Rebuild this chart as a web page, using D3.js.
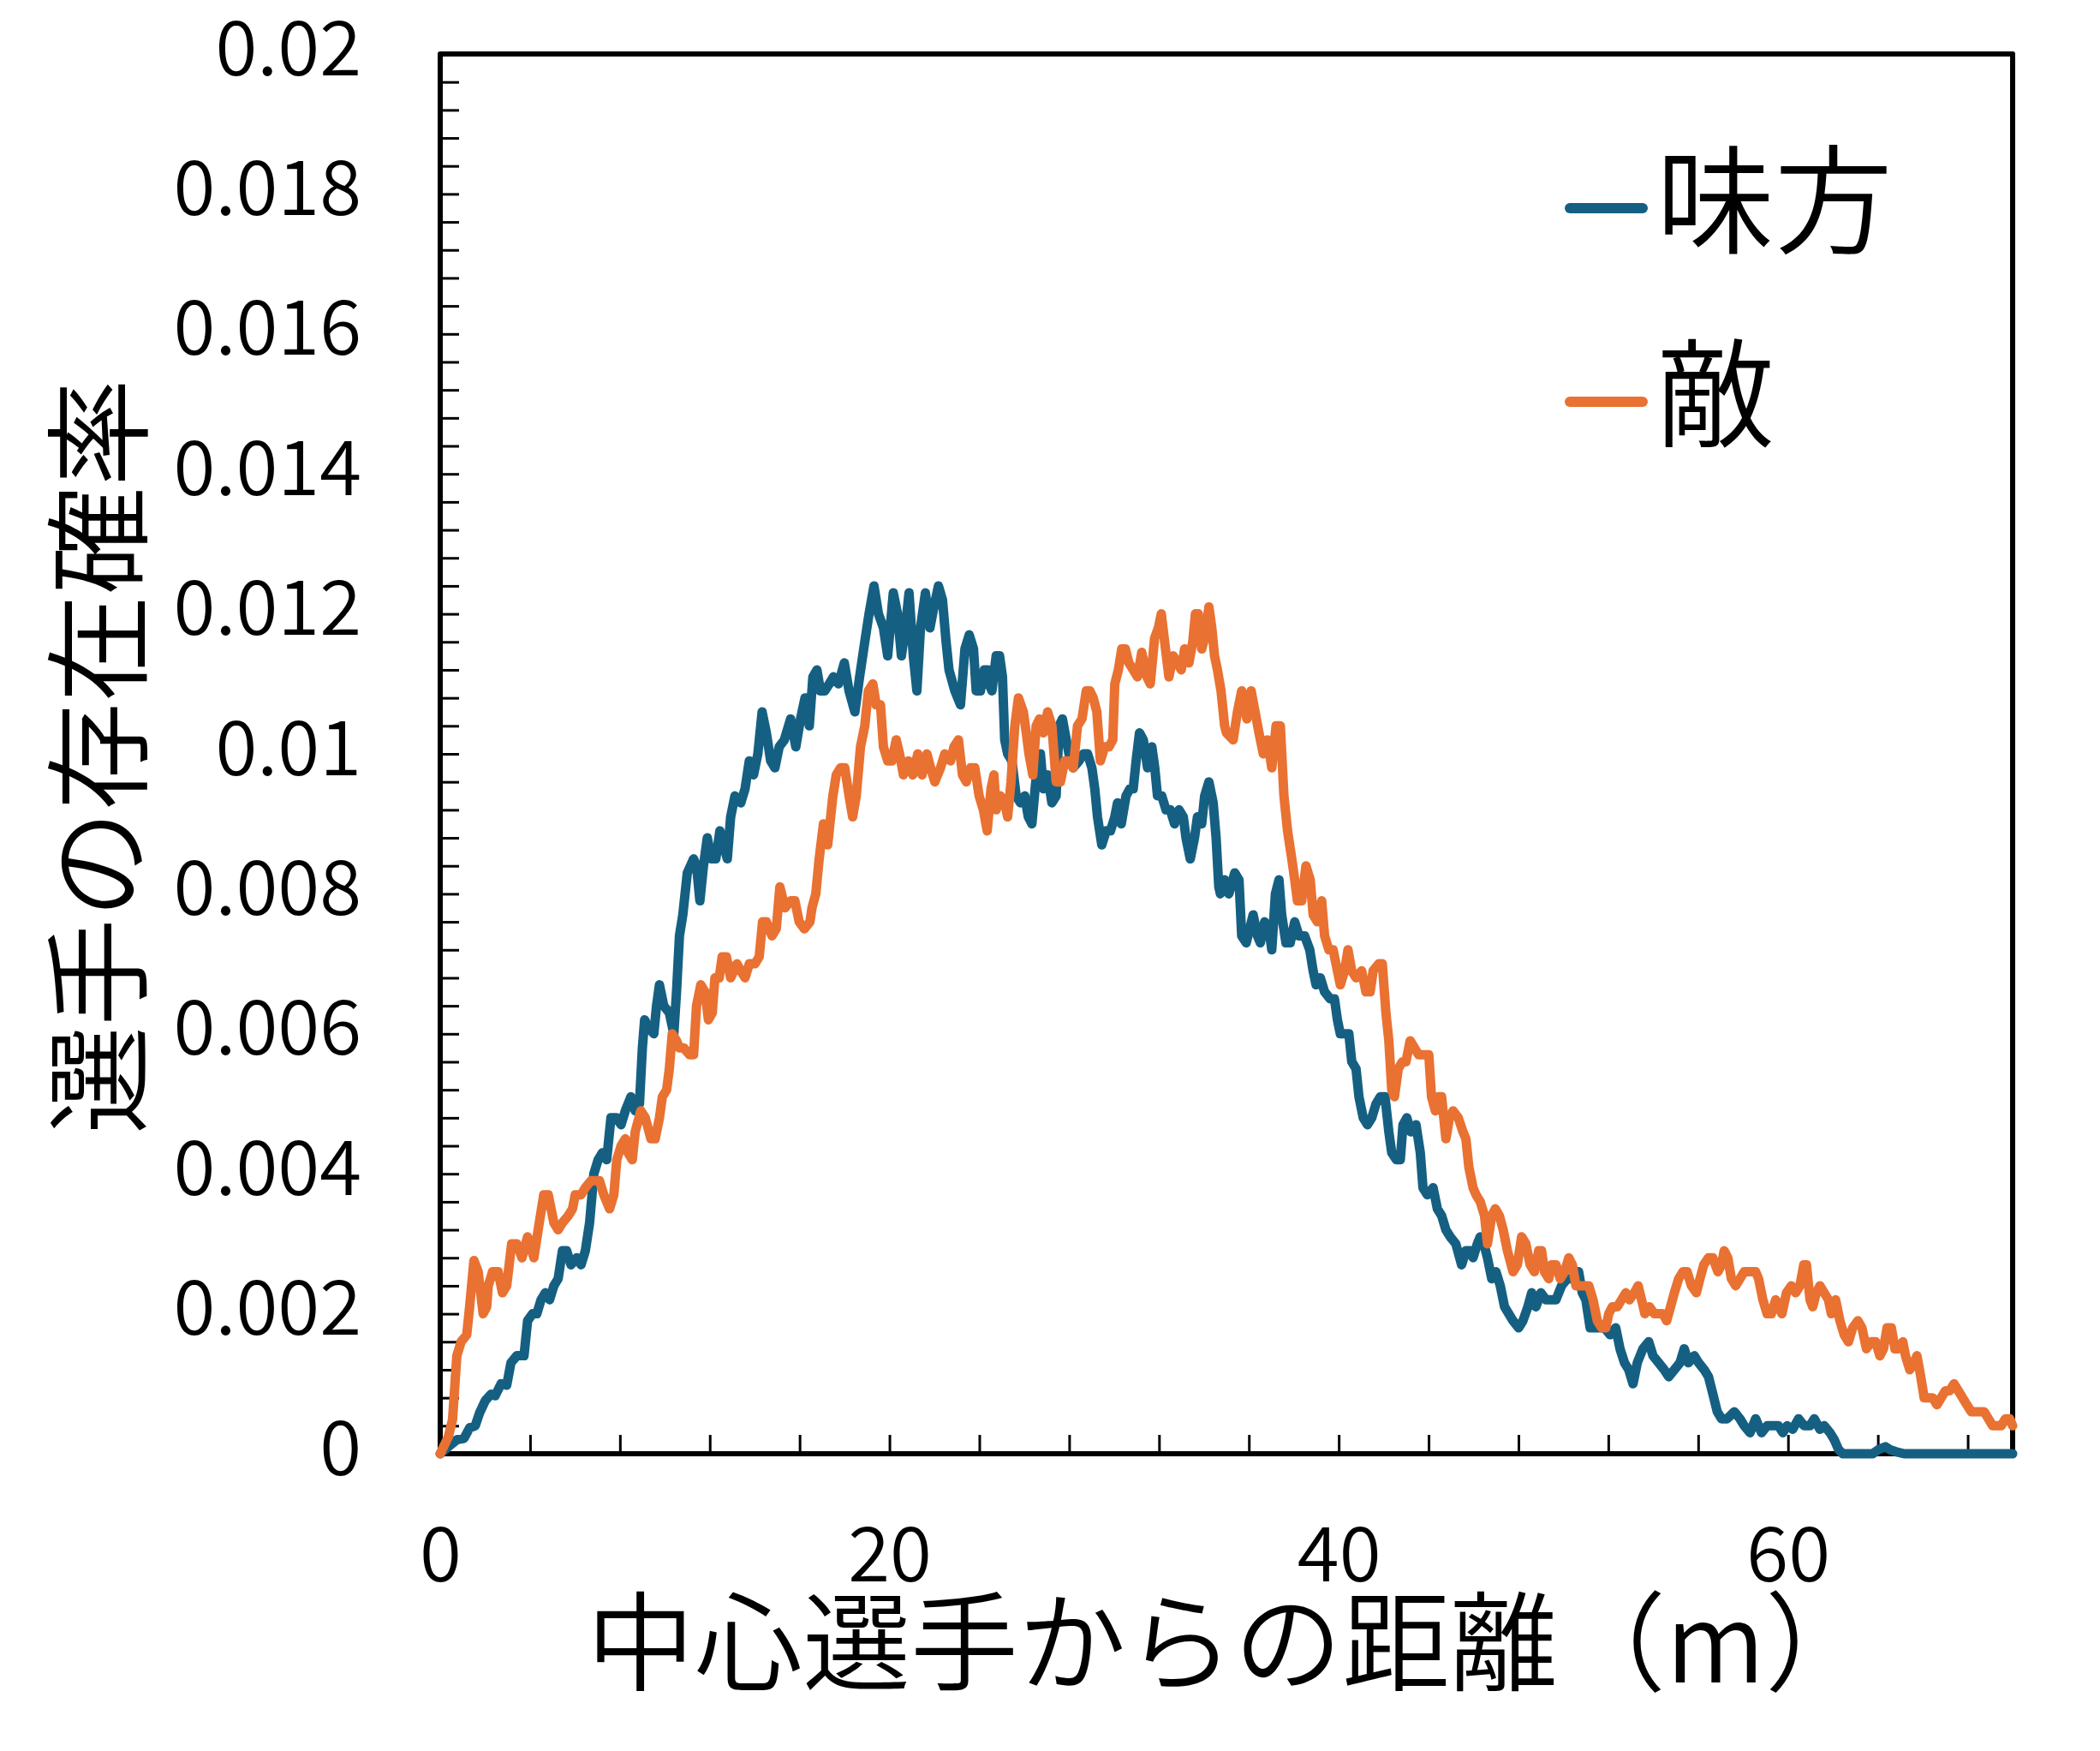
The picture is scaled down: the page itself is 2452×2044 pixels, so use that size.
<!DOCTYPE html>
<html>
<head>
<meta charset="utf-8">
<script src="https://cdn.jsdelivr.net/npm/d3@7"></script>
<style>
  body { margin: 0; background: #fff; }
  text { font-family: "Noto Sans CJK JP", "Noto Sans", sans-serif; font-weight: 350; fill: #000; }
</style>
</head>
<body>
<svg id="chart" width="2452" height="2044"></svg>
<script>
// 味方 (ally) – distance [m] and probability
var allyDist = [0,0.36,0.74,1.06,1.31,1.56,1.76,2.01,2.26,2.45,2.71,2.96,3.15,3.41,3.73,3.89,4.11,4.3,4.49,4.68,4.87,5.06,5.25,5.44,5.63,5.82,6.08,6.27,6.46,6.65,6.84,7.03,7.22,7.41,7.6,7.86,8.05,8.24,8.49,8.68,8.87,9,9.1,9.25,9.51,9.63,9.76,9.95,10.2,10.4,10.52,10.65,10.8,11,11.28,11.41,11.56,11.72,11.89,12.07,12.27,12.45,12.61,12.78,12.93,13.12,13.38,13.57,13.76,13.95,14.14,14.33,14.52,14.71,14.9,15.09,15.32,15.6,15.83,16.04,16.24,16.43,16.59,16.77,16.93,17.12,17.32,17.5,17.73,17.99,18.2,18.46,18.67,18.9,19.09,19.31,19.51,19.73,19.92,20.17,20.36,20.53,20.71,20.87,21.06,21.22,21.38,21.6,21.8,21.98,22.18,22.36,22.52,22.65,22.91,23.16,23.36,23.55,23.74,23.86,24.05,24.22,24.37,24.44,24.56,24.75,24.9,25.03,25.13,25.26,25.45,25.64,25.83,26.02,26.18,26.34,26.51,26.72,26.85,27.04,27.23,27.42,27.55,27.7,27.87,27.99,28.18,28.44,28.63,28.82,29.01,29.14,29.26,29.45,29.65,29.84,30.03,30.15,30.32,30.53,30.7,30.85,30.98,31.13,31.3,31.49,31.68,31.81,31.93,32.12,32.31,32.5,32.69,32.89,33.08,33.2,33.39,33.58,33.71,33.9,34.03,34.22,34.41,34.54,34.66,34.73,34.92,35.11,35.37,35.56,35.68,35.88,36.19,36.38,36.51,36.7,36.89,37.02,37.18,37.34,37.46,37.65,37.84,38.04,38.23,38.48,38.71,38.86,38.99,39.18,39.37,39.62,39.81,39.94,40.07,40.26,40.45,40.58,40.77,40.9,41.09,41.28,41.47,41.66,41.85,42.06,42.23,42.36,42.57,42.74,42.86,43.03,43.21,43.44,43.63,43.75,43.94,44.2,44.39,44.58,44.77,44.96,45.21,45.47,45.66,45.85,45.98,46.17,46.3,46.46,46.62,46.81,47,47.19,47.38,47.57,47.76,48.01,48.2,48.42,48.59,48.78,49,49.22,49.41,49.67,49.92,50.17,50.43,50.68,50.84,51,51.19,51.38,51.57,51.83,52.08,52.33,52.52,52.72,52.91,53.1,53.29,53.54,53.8,53.99,54.24,54.49,54.69,54.94,55.19,55.38,55.57,55.83,56.02,56.27,56.46,56.65,56.85,57.04,57.29,57.61,57.86,58.05,58.31,58.56,58.82,59.07,59.32,59.58,59.77,59.96,60.21,60.47,60.72,60.98,61.17,61.42,61.61,61.87,62.06,62.25,62.44,63.77,64.03,64.34,64.53,64.79,65.17,70];
var allyProb = [0,0.0001,0.0002,0.00022,0.00037,0.0004,0.00059,0.00076,0.00085,0.00083,0.001,0.00098,0.0013,0.0014,0.0014,0.0019,0.002,0.002,0.0022,0.0023,0.0022,0.0024,0.0025,0.0029,0.0029,0.0027,0.0028,0.0027,0.0029,0.0033,0.004,0.0042,0.0043,0.0042,0.0048,0.0048,0.0047,0.0049,0.0051,0.0049,0.005,0.0058,0.0062,0.0061,0.006,0.0064,0.0067,0.0064,0.0063,0.006,0.0066,0.0074,0.0077,0.0083,0.0085,0.0084,0.0079,0.0084,0.0088,0.0085,0.0085,0.0089,0.0087,0.0085,0.0091,0.0094,0.0093,0.0095,0.0099,0.0097,0.01,0.0106,0.0103,0.0099,0.0098,0.0101,0.0102,0.0105,0.0101,0.0105,0.0108,0.0104,0.0111,0.0112,0.0109,0.0109,0.011,0.0111,0.011,0.0113,0.0109,0.0106,0.0111,0.0116,0.012,0.0124,0.012,0.0118,0.0114,0.0123,0.012,0.0114,0.0118,0.0123,0.0114,0.0109,0.0118,0.0123,0.0118,0.0121,0.0124,0.0122,0.0116,0.0112,0.0109,0.0107,0.0115,0.0117,0.0115,0.0109,0.0109,0.0112,0.0112,0.011,0.0109,0.0114,0.0114,0.0111,0.0102,0.01,0.0099,0.0094,0.0093,0.0094,0.0091,0.009,0.0096,0.01,0.0095,0.0097,0.0093,0.0094,0.0104,0.0105,0.0102,0.01,0.0098,0.0099,0.01,0.01,0.0098,0.0095,0.0091,0.0087,0.0089,0.0089,0.0091,0.0093,0.009,0.0094,0.0095,0.0095,0.0099,0.0103,0.0102,0.0098,0.0101,0.0098,0.0094,0.0094,0.0092,0.0092,0.009,0.0092,0.0091,0.0088,0.0085,0.0088,0.0091,0.009,0.0094,0.0096,0.0093,0.0088,0.0081,0.008,0.0082,0.008,0.0083,0.0082,0.0074,0.0073,0.0077,0.0074,0.0073,0.0076,0.0075,0.0072,0.008,0.0082,0.0077,0.0073,0.0073,0.0076,0.0074,0.0074,0.0072,0.0069,0.0067,0.0068,0.0066,0.0065,0.0065,0.0062,0.006,0.006,0.006,0.0056,0.0055,0.0051,0.0048,0.0047,0.0048,0.005,0.0051,0.0051,0.0046,0.0043,0.0042,0.0042,0.0047,0.0048,0.0046,0.0047,0.0043,0.0038,0.0037,0.0038,0.0035,0.0034,0.0032,0.0031,0.003,0.0027,0.0029,0.0029,0.0028,0.003,0.0031,0.003,0.0028,0.0025,0.0026,0.0024,0.0021,0.002,0.0019,0.0018,0.0019,0.0021,0.0023,0.0021,0.0023,0.0022,0.0022,0.0022,0.0024,0.0025,0.0025,0.0026,0.0023,0.0022,0.0018,0.0018,0.0018,0.0018,0.0017,0.0018,0.0015,0.0013,0.0012,0.001,0.0013,0.0015,0.0016,0.0014,0.0013,0.0012,0.0011,0.0012,0.0013,0.0015,0.0013,0.0014,0.0013,0.0012,0.0011,0.00086,0.0006,0.0005,0.0005,0.0006,0.0005,0.0004,0.0003,0.0005,0.0003,0.0004,0.0004,0.0004,0.0003,0.0004,0.00035,0.0005,0.0004,0.0004,0.0005,0.00035,0.0004,0.0003,0.0002,0.00006,0,0,0.00006,0.0001,0.00006,0.00003,0,0];

// 敵 (enemy)
var enemyDist = [0,0.36,0.55,0.74,0.93,1.18,1.31,1.5,1.69,1.91,2.07,2.14,2.33,2.58,2.77,2.96,3.18,3.41,3.64,3.89,4.17,4.36,4.61,4.81,5.06,5.25,5.44,5.7,5.89,6.01,6.27,6.46,6.71,7.09,7.28,7.54,7.73,7.86,8.05,8.24,8.36,8.55,8.68,8.93,9.13,9.38,9.57,9.76,9.89,10.08,10.2,10.33,10.52,10.65,10.84,11.1,11.28,11.41,11.6,11.79,11.94,12.11,12.23,12.42,12.55,12.74,12.93,13.21,13.38,13.57,13.76,14.01,14.2,14.35,14.52,14.77,14.96,15.12,15.35,15.6,15.79,15.98,16.21,16.46,16.55,16.72,16.87,17.06,17.25,17.48,17.63,17.82,18.01,18.2,18.36,18.52,18.71,18.9,19.06,19.26,19.41,19.6,19.73,19.92,20.11,20.3,20.45,20.62,20.84,21.04,21.26,21.45,21.67,21.83,22.02,22.27,22.46,22.72,22.87,23.07,23.25,23.42,23.61,23.8,23.99,24.18,24.35,24.52,24.65,24.75,24.94,25.13,25.26,25.41,25.58,25.74,25.96,26.09,26.21,26.38,26.53,26.68,26.85,27.04,27.23,27.42,27.61,27.8,27.99,28.18,28.37,28.57,28.76,28.92,29.07,29.23,29.39,29.58,29.77,29.94,30.03,30.19,30.34,30.5,30.66,30.85,31.04,31.23,31.46,31.61,31.8,31.97,32.1,32.25,32.44,32.63,32.82,32.99,33.14,33.33,33.5,33.62,33.75,33.9,34.07,34.22,34.35,34.47,34.6,34.76,34.92,35,35.3,35.49,35.68,35.91,36.1,36.45,36.64,36.83,37.02,37.21,37.4,37.56,37.72,37.91,38.04,38.16,38.35,38.54,38.73,38.86,39.05,39.24,39.37,39.56,39.75,39.94,40.07,40.26,40.41,40.58,40.77,41.02,41.21,41.4,41.53,41.78,41.94,42.1,42.23,42.36,42.48,42.65,42.83,42.99,43.18,43.37,43.56,43.75,44.01,44.13,44.3,44.45,44.58,44.77,44.93,45.09,45.32,45.53,45.66,45.79,45.98,46.11,46.3,46.49,46.62,46.81,46.97,47.15,47.32,47.51,47.76,47.95,48.14,48.33,48.52,48.71,48.9,49.03,49.16,49.35,49.48,49.67,49.86,50.05,50.24,50.4,50.56,50.75,50.94,51.13,51.32,51.51,51.7,51.89,52.02,52.18,52.4,52.59,52.78,52.94,53.16,53.33,53.48,53.63,53.83,54.05,54.24,54.43,54.6,54.77,54.94,55.13,55.32,55.51,55.7,55.92,56.08,56.25,56.46,56.65,56.88,57.04,57.16,57.32,57.48,57.67,57.86,58.05,58.31,58.56,58.69,58.88,59.07,59.26,59.45,59.58,59.73,59.93,60.15,60.34,60.53,60.7,60.82,60.98,61.1,61.26,61.42,61.61,61.8,61.93,62.12,62.31,62.5,62.69,62.88,63.11,63.29,63.49,63.71,63.9,64.09,64.25,64.41,64.6,64.76,64.92,65.11,65.23,65.42,65.61,65.74,65.91,66.06,66.25,66.44,66.63,66.82,67.01,67.2,67.39,67.58,67.77,67.96,68.16,68.35,68.54,68.73,68.92,69.11,69.3,69.49,69.68,69.87,70];
var enemyProb = [0,0.00024,0.00049,0.0014,0.0016,0.0017,0.0021,0.00276,0.0026,0.002,0.0021,0.0024,0.0026,0.0026,0.0023,0.0024,0.003,0.003,0.0028,0.0031,0.0028,0.0032,0.0037,0.0037,0.0033,0.0032,0.0033,0.0034,0.0035,0.0037,0.0037,0.0038,0.0039,0.0039,0.0037,0.0035,0.0037,0.0042,0.0044,0.0045,0.0043,0.0042,0.0046,0.0049,0.0048,0.0045,0.0045,0.0048,0.0051,0.0052,0.0055,0.006,0.0059,0.0058,0.0058,0.0057,0.0057,0.0064,0.0067,0.0066,0.0062,0.0063,0.0068,0.0068,0.0071,0.0071,0.0068,0.007,0.0069,0.0068,0.007,0.007,0.0071,0.0076,0.0076,0.0074,0.0075,0.0081,0.0078,0.0079,0.0079,0.0076,0.0075,0.0076,0.0078,0.008,0.0085,0.009,0.0087,0.0094,0.0097,0.0098,0.0098,0.0094,0.0091,0.0094,0.0101,0.0104,0.0109,0.011,0.0107,0.0107,0.0101,0.0099,0.0099,0.0102,0.01,0.0097,0.0099,0.0097,0.01,0.0097,0.01,0.0098,0.0096,0.0098,0.01,0.0099,0.0101,0.0102,0.0097,0.0096,0.0098,0.0098,0.0094,0.0092,0.0089,0.0095,0.0097,0.0092,0.0094,0.0093,0.0091,0.0096,0.0104,0.0108,0.0106,0.0103,0.01,0.0097,0.0104,0.0105,0.0103,0.0106,0.0104,0.0096,0.0096,0.0099,0.0099,0.0098,0.0104,0.0105,0.0109,0.0109,0.0108,0.0106,0.0099,0.0101,0.0101,0.0102,0.011,0.0112,0.0115,0.0115,0.0113,0.0112,0.0111,0.01145,0.0111,0.011,0.01165,0.0118,0.012,0.0116,0.0111,0.0114,0.0113,0.0112,0.0115,0.0113,0.0116,0.012,0.012,0.0115,0.0117,0.0121,0.0118,0.0114,0.0112,0.0109,0.0104,0.0103,0.0102,0.0106,0.0109,0.0105,0.0109,0.0103,0.01,0.0102,0.0098,0.0104,0.0104,0.0094,0.0089,0.0085,0.0082,0.0079,0.0079,0.0084,0.0082,0.0077,0.0076,0.0079,0.0074,0.0072,0.0072,0.0069,0.0067,0.0069,0.0072,0.0069,0.0068,0.0069,0.0066,0.0066,0.0069,0.007,0.007,0.0063,0.0059,0.0052,0.0051,0.0055,0.0056,0.0056,0.0059,0.0058,0.0057,0.0057,0.0057,0.0051,0.0049,0.0051,0.0051,0.0045,0.0048,0.0049,0.0048,0.0046,0.0045,0.0041,0.0038,0.0037,0.0036,0.0034,0.003,0.0034,0.0035,0.0034,0.0032,0.0029,0.0026,0.0027,0.0031,0.003,0.0027,0.0026,0.0029,0.0029,0.0026,0.0025,0.0027,0.0027,0.0025,0.0026,0.0028,0.0027,0.0024,0.0024,0.0024,0.0024,0.0022,0.0019,0.0018,0.0018,0.002,0.0021,0.0021,0.0022,0.0023,0.0022,0.0023,0.0024,0.0022,0.002,0.0021,0.002,0.002,0.002,0.0019,0.0021,0.0023,0.0025,0.0026,0.0026,0.0024,0.0023,0.0025,0.0027,0.0028,0.0028,0.0026,0.0027,0.0029,0.0028,0.0025,0.0024,0.0025,0.0026,0.0026,0.0026,0.0025,0.0022,0.002,0.002,0.0022,0.0021,0.002,0.0023,0.0024,0.0023,0.0024,0.0027,0.0027,0.0022,0.0021,0.0023,0.0024,0.0023,0.0022,0.002,0.0022,0.0019,0.0017,0.0016,0.0018,0.0019,0.0018,0.0015,0.0016,0.0016,0.0014,0.0015,0.0018,0.0018,0.0015,0.0015,0.0016,0.0014,0.0012,0.0013,0.0014,0.0011,0.0008,0.0008,0.0008,0.0007,0.0008,0.0009,0.0009,0.001,0.0009,0.0008,0.0007,0.0006,0.0006,0.0006,0.0006,0.0005,0.0004,0.0004,0.0004,0.0005,0.0005,0.0004];

var seriesNames = ["味方", "敵"];
var seriesColors = ["#156082", "#E97132"];
var xLabelTicks = [0, 20, 40, 60];
var xMinorTicks = d3.range(4, 70, 4);
var yLabelTicks = d3.range(0, 0.0201, 0.002);
var yMinorTicks = d3.range(1, 50).map((d) => d * 0.0004);
var xTitle = "中心選手からの距離（m）";
var yTitle = "選手の存在確率";

var plotLeft = 514, plotRight = 2350, plotTop = 63, plotBottom = 1697;

var xScale = d3.scaleLinear().domain([0, 70]).range([plotLeft, plotRight]);
var yScale = d3.scaleLinear().domain([0, 0.02]).range([plotBottom, plotTop]);

var svg = d3.select("#chart");

// inner minor ticks
svg.append("g")
  .attr("transform", "translate(0," + plotBottom + ")")
  .call(d3.axisBottom(xScale).tickValues(xMinorTicks).tickSizeInner(-22).tickSizeOuter(0).tickFormat(""))
  .call((g) => g.select(".domain").remove())
  .selectAll("line").attr("stroke", "#000").attr("stroke-width", 3);

svg.append("g")
  .attr("transform", "translate(" + plotLeft + ",0)")
  .call(d3.axisLeft(yScale).tickValues(yMinorTicks).tickSizeInner(-22).tickSizeOuter(0).tickFormat(""))
  .call((g) => g.select(".domain").remove())
  .selectAll("line").attr("stroke", "#000").attr("stroke-width", 3);

// tick labels
var yLab = svg.append("g")
  .attr("transform", "translate(" + plotLeft + ",0)")
  .call(d3.axisLeft(yScale).tickValues(yLabelTicks).tickSize(0).tickPadding(92)
    .tickFormat((d) => String(+d.toFixed(3))));
yLab.select(".domain").remove();
yLab.selectAll("text").attr("font-size", 89).attr("dy", "0.27em").attr("fill", "#000");

var xLab = svg.append("g")
  .attr("transform", "translate(0," + plotBottom + ")")
  .call(d3.axisBottom(xScale).tickValues(xLabelTicks).tickSize(0).tickPadding(86));
xLab.select(".domain").remove();
xLab.selectAll("text").attr("font-size", 89).attr("dy", "0.71em").attr("fill", "#000");
svg.selectAll("g").attr("font-family", null);

// plot frame
svg.append("rect")
  .attr("x", plotLeft).attr("y", plotTop)
  .attr("width", plotRight - plotLeft).attr("height", plotBottom - plotTop)
  .attr("fill", "none").attr("stroke", "#000").attr("stroke-width", 6)
  .attr("stroke-linejoin", "round");

// series lines
var line = d3.line()
  .x((d) => xScale(d[0]))
  .y((d) => yScale(d[1]));

var series = [
  d3.zip(allyDist, allyProb),
  d3.zip(enemyDist, enemyProb)
];

svg.selectAll("path.series")
  .data(series)
  .enter()
  .append("path")
  .attr("class", "series")
  .attr("d", line)
  .attr("fill", "none")
  .attr("stroke", (d, i) => seriesColors[i])
  .attr("stroke-width", 11)
  .attr("stroke-linejoin", "round")
  .attr("stroke-linecap", "round");

// legend
var legend = svg.selectAll("g.legend")
  .data(seriesNames)
  .enter()
  .append("g")
  .attr("class", "legend")
  .attr("transform", (d, i) => "translate(1827," + (243 + i * 226) + ")");

legend.append("line")
  .attr("x1", 6).attr("x2", 91)
  .attr("stroke", (d, i) => seriesColors[i])
  .attr("stroke-width", 12)
  .attr("stroke-linecap", "round");

legend.append("text")
  .attr("x", 107).attr("y", 42)
  .attr("font-size", 138)
  .text((d) => d);

// axis titles
svg.append("text")
  .attr("x", 1436).attr("y", 1964)
  .attr("text-anchor", "middle")
  .attr("font-size", 126)
  .text(xTitle);

svg.append("text")
  .attr("transform", "translate(162,883) rotate(-90)")
  .attr("text-anchor", "middle")
  .attr("font-size", 126)
  .text(yTitle);
</script>
</body>
</html>
